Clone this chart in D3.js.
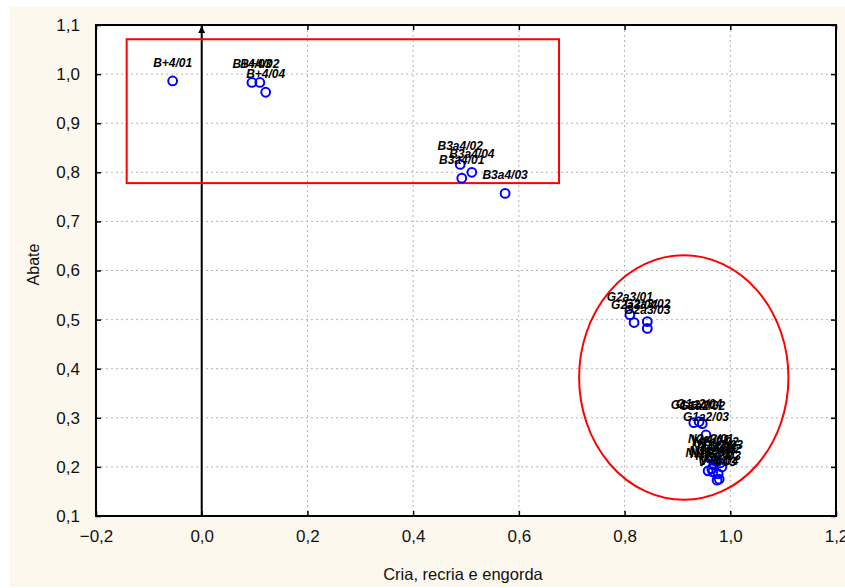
<!DOCTYPE html>
<html>
<head>
<meta charset="utf-8">
<script src="https://cdn.jsdelivr.net/npm/d3@7"></script>
<style>
  html, body { margin: 0; padding: 0; background: #ffffff; }
  svg { display: block; }
</style>
</head>
<body>
<svg id="chart" width="845" height="588"></svg>
<script>
// ---- data ----
const labels = [
  "B+4/01","B+4/03","B+4/02","B+4/04",
  "B3a4/02","B3a4/04","B3a4/01","B3a4/03",
  "G2a3/01","G2a3/04","G2a3/02","G2a3/03",
  "G1a2/01","G1a2/04","G1a2/02","G1a2/03",
  "N2a3/01","N2a3/02","N2a3/03","N2a3/04",
  "N1a2/01","N1a2/02","N1a2/03","N1a2/04",
  "V+4/01","V+4/02","V+4/03","V+4/04"
];
const xValues = [
  -0.055, 0.095, 0.110, 0.121,
  0.489, 0.511, 0.492, 0.574,
  0.810, 0.818, 0.843, 0.843,
  0.931, 0.941, 0.947, 0.954,
  0.963, 0.973, 0.981, 0.969,
  0.958, 0.967, 0.977, 0.965,
  0.962, 0.984, 0.975, 0.979
];
const yValues = [
  0.986, 0.983, 0.983, 0.963,
  0.816, 0.800, 0.788, 0.757,
  0.510, 0.494, 0.496, 0.482,
  0.290, 0.292, 0.288, 0.265,
  0.220, 0.214, 0.208, 0.204,
  0.192, 0.190, 0.186, 0.196,
  0.218, 0.200, 0.173, 0.175
];
const xTickValues = [-0.2, 0.0, 0.2, 0.4, 0.6, 0.8, 1.0, 1.2];
const yTickValues = [0.1, 0.2, 0.3, 0.4, 0.5, 0.6, 0.7, 0.8, 0.9, 1.0, 1.1];
const xTitle = "Cria, recria e engorda";
const yTitle = "Abate";
// annotation shapes (data units)
const boxCorners = [[-0.142, 1.071], [0.676, 0.778]];
const ellipseSpec = [0.912, 0.382, 0.198, 0.249]; // cx, cy, rx, ry

// ---- layout ----
const svg = d3.select("#chart");
const W = 845, H = 588;
const m = { left: 96, top: 25, right: 9, bottom: 72 };
const pw = W - m.left - m.right, ph = H - m.top - m.bottom;

svg.append("rect").attr("x", 10).attr("y", 7).attr("width", W - 10).attr("height", H - 8)
  .attr("fill", "#fdf8ee");

const g = svg.append("g").attr("transform", `translate(${m.left},${m.top})`);
g.append("rect").attr("width", pw).attr("height", ph).attr("fill", "#ffffff");

const x = d3.scaleLinear().domain([-0.2, 1.2]).range([0, pw]);
const y = d3.scaleLinear().domain([0.1, 1.1]).range([ph, 0]);
const fmt = v => d3.format(".1f")(v).replace(".", ",");

// grid
g.append("g").selectAll("line").data(xTickValues).join("line")
  .attr("x1", d => x(d)).attr("x2", d => x(d)).attr("y1", 0).attr("y2", ph)
  .attr("stroke", "#b4b4b4").attr("stroke-width", 1).attr("stroke-dasharray", "2,3");
g.append("g").selectAll("line").data(yTickValues).join("line")
  .attr("y1", d => y(d)).attr("y2", d => y(d)).attr("x1", 0).attr("x2", pw)
  .attr("stroke", "#b4b4b4").attr("stroke-width", 1).attr("stroke-dasharray", "2,3");

// axes
const fontAxis = "'Liberation Sans', Arial, sans-serif";
const xAxis = g.append("g").attr("transform", `translate(0,${ph})`)
  .call(d3.axisBottom(x).tickValues(xTickValues).tickFormat(fmt).tickSizeInner(-5).tickSizeOuter(0).tickPadding(14));
const yAxis = g.append("g")
  .call(d3.axisLeft(y).tickValues(yTickValues).tickFormat(fmt).tickSizeInner(-5).tickSizeOuter(0).tickPadding(16));
const xTop = g.append("g")
  .call(d3.axisTop(x).tickValues(xTickValues).tickFormat("").tickSizeInner(-5).tickSizeOuter(0));
const yRight = g.append("g").attr("transform", `translate(${pw},0)`)
  .call(d3.axisRight(y).tickValues(yTickValues).tickFormat("").tickSizeInner(-5).tickSizeOuter(0));
[xAxis, yAxis, xTop, yRight].forEach(a => {
  a.select(".domain").remove();
  a.selectAll(".tick line").attr("stroke", "#000").attr("stroke-width", 1.5);
  a.selectAll("text").attr("font-family", fontAxis).attr("font-size", 17).attr("fill", "#111");
});

// frame
g.append("rect").attr("width", pw).attr("height", ph).attr("fill", "none")
  .attr("stroke", "#000").attr("stroke-width", 2);

// vertical arrow at x = 0
const defs = svg.append("defs");
defs.append("marker").attr("id", "arr").attr("viewBox", "0 0 10 10")
  .attr("refX", 10).attr("refY", 5).attr("markerWidth", 7).attr("markerHeight", 9)
  .attr("markerUnits", "userSpaceOnUse").attr("orient", "auto")
  .append("path").attr("d", "M0,0 L10,5 L0,10 Z").attr("fill", "#000");
g.append("line").attr("x1", x(0)).attr("x2", x(0)).attr("y1", ph).attr("y2", y(1.1) + 1)
  .attr("stroke", "#000").attr("stroke-width", 2).attr("marker-end", "url(#arr)");

// annotation shapes
g.append("rect")
  .attr("x", x(boxCorners[0][0])).attr("y", y(boxCorners[0][1]))
  .attr("width", x(boxCorners[1][0]) - x(boxCorners[0][0]))
  .attr("height", y(boxCorners[1][1]) - y(boxCorners[0][1]))
  .attr("fill", "none").attr("stroke", "#ff0000").attr("stroke-width", 2);
g.append("ellipse")
  .attr("cx", x(ellipseSpec[0])).attr("cy", y(ellipseSpec[1]))
  .attr("rx", x(ellipseSpec[0] + ellipseSpec[2]) - x(ellipseSpec[0]))
  .attr("ry", y(ellipseSpec[1] - ellipseSpec[3]) - y(ellipseSpec[1]))
  .attr("fill", "none").attr("stroke", "#ff0000").attr("stroke-width", 2);

// points
const pts = labels.map((l, i) => ({ label: l, x: xValues[i], y: yValues[i] }));
g.append("g").selectAll("circle").data(pts).join("circle")
  .attr("cx", d => x(d.x)).attr("cy", d => y(d.y)).attr("r", 4.4)
  .attr("fill", "none").attr("stroke", "#0000ff").attr("stroke-width", 2);
g.append("g").selectAll("text").data(pts).join("text")
  .attr("x", d => x(d.x)).attr("y", d => y(d.y) - 14)
  .attr("text-anchor", "middle")
  .attr("font-family", fontAxis).attr("font-size", 12)
  .attr("font-weight", "bold").attr("font-style", "italic").attr("fill", "#000")
  .text(d => d.label);

// titles
svg.append("text").attr("x", m.left + pw / 2 - 3).attr("y", 580)
  .attr("text-anchor", "middle").attr("font-family", fontAxis).attr("font-size", 16.5)
  .attr("fill", "#111").text(xTitle);
svg.append("text").attr("transform", `translate(39,${m.top + ph / 2 - 6}) rotate(-90)`)
  .attr("text-anchor", "middle").attr("font-family", fontAxis).attr("font-size", 16)
  .attr("fill", "#111").text(yTitle);
</script>
</body>
</html>
